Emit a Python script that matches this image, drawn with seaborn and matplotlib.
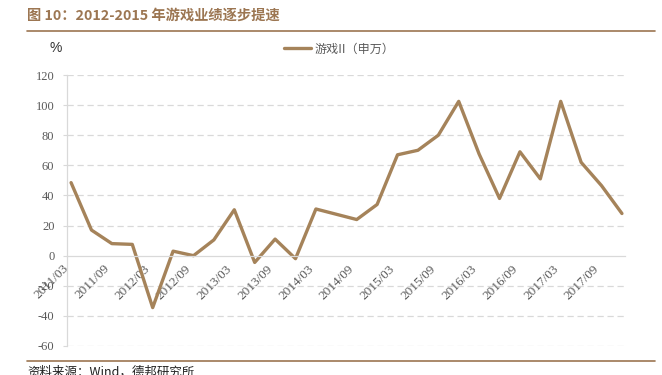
import matplotlib
matplotlib.use("Agg")
import matplotlib.pyplot as plt
import seaborn as sns
import pandas as pd
from matplotlib.lines import Line2D

quarters = ["2011/03", "2011/06", "2011/09", "2011/12", "2012/03", "2012/06", "2012/09", "2012/12",
            "2013/03", "2013/06", "2013/09", "2013/12", "2014/03", "2014/06", "2014/09", "2014/12",
            "2015/03", "2015/06", "2015/09", "2015/12", "2016/03", "2016/06", "2016/09", "2016/12",
            "2017/03", "2017/06", "2017/09", "2017/12"]
growth = [48.5, 17, 8, 7.5, -34.5, 3, 0, 10.5,
          30.5, -4.5, 11, -2, 31, 27.5, 24, 34,
          67, 70, 80, 102.5, 67.5, 38, 69, 51,
          102.5, 62, 46.5, 28]
tick_labels = ["2011/03", "2011/09", "2012/03", "2012/09", "2013/03", "2013/09", "2014/03",
               "2014/09", "2015/03", "2015/09", "2016/03", "2016/09", "2017/03", "2017/09"]
y_ticks = [-60, -40, -20, 0, 20, 40, 60, 80, 100, 120]
series_name = "游戏II（申万）"
title_text = "图 10：2012-2015 年游戏业绩逐步提速"
source_text = "资料来源：Wind，德邦研究所"

sns.set_style("white")
plt.rcParams["font.family"] = ["Noto Sans CJK SC", "DejaVu Sans"]

W, H = 662, 375
fig = plt.figure(figsize=(W / 100, H / 100), dpi=100)
ax = fig.add_axes([67 / W, 1 - 346 / H, (625 - 67) / W, (346 - 75) / H])

df = pd.DataFrame({"idx": range(len(quarters)), "quarter": quarters, "val": growth})
line_color = "#A5835A"
brown = "#9C7652"
grid_c = "#D9D9D9"
text_c = "#595959"

sns.lineplot(data=df, x="idx", y="val", color=line_color, lw=2.4, ax=ax, legend=False)

ax.set_xlim(-0.2, 27.15)
ax.set_ylim(-60, 120)
ax.set_yticks(y_ticks)
ax.set_yticklabels([str(v) for v in y_ticks])
tick_pos = [quarters.index(t) for t in tick_labels]
ax.set_xticks(tick_pos)
ax.set_xticklabels(tick_labels)
ax.set_xlabel("")
ax.set_ylabel("")

for v in y_ticks:
    if v != 0:
        ax.axhline(v, color=grid_c, lw=0.9, ls=(0, (5, 3)), zorder=0)

for s in ["top", "right"]:
    ax.spines[s].set_visible(False)
ax.spines["left"].set_color(grid_c)
ax.spines["left"].set_linewidth(0.9)
ax.spines["bottom"].set_position(("data", 0))
ax.spines["bottom"].set_color(grid_c)
ax.spines["bottom"].set_linewidth(0.9)
ax.tick_params(axis="x", length=0, pad=5, labelrotation=45, labelsize=9.5, labelcolor=text_c)
ax.tick_params(axis="y", length=3, color=grid_c, pad=6, left=True, labelsize=9, labelcolor=text_c)
for lab in ax.get_xticklabels():
    lab.set_ha("right")
    lab.set_va("top")
    lab.set_family(["Liberation Serif"])
for lab in ax.get_yticklabels():
    lab.set_family(["Liberation Serif"])

# legend
handle = Line2D([], [], color=line_color, lw=2.4)
fig.legend([handle], [series_name], loc="center left", bbox_to_anchor=(284 / W, 1 - 49 / H),
           frameon=False, handlelength=2.2, handletextpad=0.3, borderpad=0, borderaxespad=0,
           prop={"family": ["Noto Sans CJK SC"], "size": 8.7}, labelcolor=text_c)

# % label
fig.text(56 / W, 1 - 48 / H, "%", ha="center", va="center", fontsize=10, color="#333333",
         family=["Liberation Sans"])

# title
fig.text(27 / W, 1 - 16 / H, title_text, ha="left", va="center", fontsize=10.3, fontweight="bold",
         color=brown, family=["Noto Sans CJK SC", "DejaVu Sans"])
fig.add_artist(Line2D([27 / W, 655 / W], [1 - 31 / H, 1 - 31 / H], color=brown, lw=1.2))
fig.add_artist(Line2D([27 / W, 655 / W], [1 - 361 / H, 1 - 361 / H], color=brown, lw=1.2))
fig.text(27 / W, 1 - 366 / H, source_text, ha="left", va="top", fontsize=9, color="#222222",
         family=["Noto Sans CJK SC", "DejaVu Sans"])

fig.savefig("out.png", dpi=100)
